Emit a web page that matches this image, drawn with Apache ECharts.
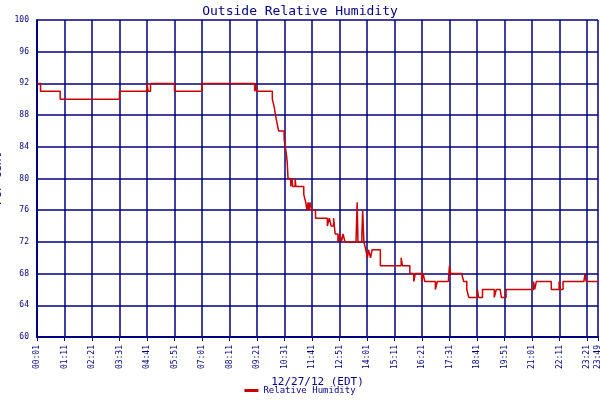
<!DOCTYPE html>
<html><head><meta charset="utf-8">
<script src="https://cdn.jsdelivr.net/npm/echarts@6/dist/echarts.min.js"></script>
<style>html,body{margin:0;background:#fff}#c{width:600px;height:400px}</style>
</head><body><div id="c"></div>
<script>
const times = ["00:01","00:10","01:00","03:31","04:41","04:44","04:46","04:50","05:51","07:01","09:15","09:18","09:20","09:25","10:00","10:05","10:08","10:12","10:16","10:20","10:30","10:33","10:36","10:38","10:40","10:47","10:50","10:52","10:58","11:00","11:02","11:20","11:25","11:28","11:31","11:33","11:36","11:40","11:50","12:20","12:25","12:30","12:36","12:40","12:47","12:52","12:56","13:00","13:05","13:33","13:36","13:38","13:48","13:50","13:53","13:58","14:02","14:05","14:10","14:14","14:35","15:28","15:31","15:50","16:00","16:04","16:20","16:24","16:28","16:55","17:00","17:28","17:31","17:34","18:02","18:07","18:15","18:20","18:35","18:42","18:45","18:55","19:00","19:25","19:30","19:40","19:43","19:55","21:05","21:08","21:12","21:50","22:10","22:13","22:20","23:13","23:16","23:19","23:49"];
const humidity = [92,91,90,91,92,91,91,92,91,92,91,92,91,91,90,89,88,87,86,86,85,84,83,82,80,79,80,79,80,79,79,78,77,76,77,76,77,76,75,74,75,74,75,73,72,73,72,73,72,72,77,72,73,76,72,71,70,71,70,71,69,70,69,68,67,68,67,68,67,66,67,67,69,68,68,67,66,65,65,66,65,66,66,65,66,66,65,66,67,66,67,66,67,66,67,67,68,67,67];
const tickLabels = ["00:01","01:11","02:21","03:31","04:41","05:51","07:01","08:11","09:21","10:31","11:41","12:51","14:01","15:11","16:21","17:31","18:41","19:51","21:01","22:11","23:21","23:49"];
const toMin = t => { const [h,m]=t.split(':').map(Number); return h*60+m-1; };
const data = times.map((t,i)=>[toMin(t), humidity[i]]);
const navy = '#000080';
const font = 'DejaVu Sans Mono';
const chart = echarts.init(document.getElementById('c'));
chart.setOption({
  animation:false,
  title:{text:'Outside Relative Humidity',left:'center',top:0,textStyle:{color:navy,fontFamily:font,fontSize:13,fontWeight:'normal'}},
  legend:{bottom:0,left:'center',itemWidth:14,itemHeight:3,icon:'rect',textStyle:{color:navy,fontFamily:font,fontSize:9},data:['Relative Humidity']},
  grid:{left:37,right:2,top:20,bottom:63,containLabel:false,outerBoundsMode:'none'},
  xAxis:{type:'value',min:0,max:1428,interval:70,
    name:'12/27/12 (EDT)',nameLocation:'middle',nameGap:38,nameTextStyle:{color:navy,fontFamily:font,fontSize:11},
    axisLine:{lineStyle:{color:navy,width:2}},axisTick:{show:true,length:4,lineStyle:{color:navy}},
    splitLine:{show:true,lineStyle:{color:navy,width:1.5}},
    axisLabel:{rotate:90,color:navy,fontFamily:font,fontSize:8,showMaxLabel:true,
      formatter:v=>{ if(v===1428) return tickLabels[21]; const i=Math.round(v/70); return tickLabels[i]||''; }}},
  yAxis:{type:'value',min:60,max:100,interval:4,
    name:'Per Cent',nameLocation:'middle',nameGap:24,nameTextStyle:{color:navy,fontFamily:font,fontSize:11},
    axisLine:{show:true,lineStyle:{color:navy,width:2}},axisTick:{show:false},
    splitLine:{lineStyle:{color:navy,width:1.5}},
    axisLabel:{color:navy,fontFamily:font,fontSize:8}},
  series:[{name:'Relative Humidity',type:'line',step:'end',data:data,showSymbol:false,
    lineStyle:{color:'#cc0000',width:1.5},itemStyle:{color:'#cc0000'}}]
});
</script></body></html>
